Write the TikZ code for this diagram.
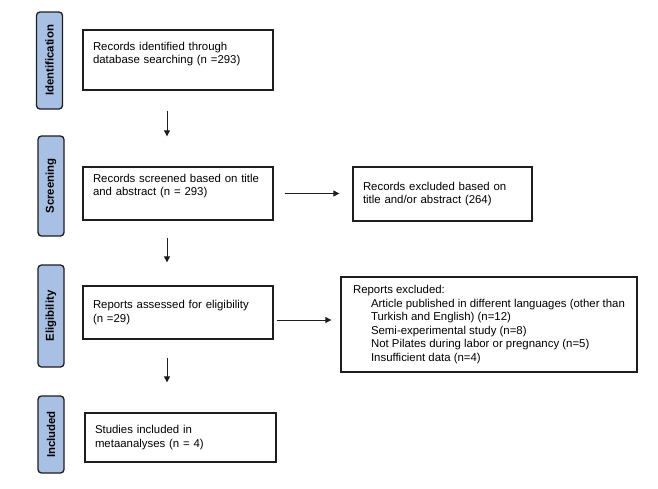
\documentclass[tikz,border=0pt]{standalone}
\usepackage{fontspec}
\setmainfont{Liberation Sans}
\usetikzlibrary{arrows.meta}
\definecolor{stageblue}{RGB}{167,192,228}
\definecolor{linegray}{RGB}{30,30,30}

\begin{document}
\begin{tikzpicture}[x=1pt,y=-1pt,
    stage/.style={draw=linegray, line width=1.3pt, fill=stageblue, rounded corners=3.5pt,
        rotate=90, minimum height=26pt, inner sep=0pt,
        font=\fontsize{11.4}{13.5}\selectfont\bfseries},
    box/.style={draw=linegray, line width=1.3pt, align=left, inner xsep=10pt, inner ysep=0pt,
        font=\fontsize{11.4}{13.5}\selectfont},
    arr/.style={draw=linegray, line width=1pt, -{Triangle[length=6pt,width=6pt]}}
]
\useasboundingbox (0,0) rectangle (658,488);
\fill[white] (0,0) rectangle (658,488);

% stages
\node[stage, minimum width=97pt] (sIdent) at (49.5,60.5) {Identification};
\node[stage, minimum width=100pt] (sScreen) at (51,186) {Screening};
\node[stage, minimum width=102pt] (sElig) at (51,316) {Eligibility};
\node[stage, minimum width=77pt] (sIncl) at (51,434.5) {Included};

% main boxes
\node[box, text width=170pt, minimum height=60pt] (ident) at (178,60)
    {Records identified through\\database searching (n =293)\rule[-14pt]{0pt}{14pt}};
\node[box, text width=170pt, minimum height=53pt] (screen) at (178,193.5)
    {Records screened based on title\\and abstract (n = 293)\rule[-17pt]{0pt}{17pt}};
\node[box, text width=170pt, minimum height=53pt] (elig) at (178,312.5)
    {Reports assessed for eligibility\\(n =29)};
\node[box, text width=171pt, minimum height=49pt] (incl) at (180.5,437.5)
    {Studies included in\\metaanalyses (n = 4)};

% excluded
\node[box, text width=159pt, minimum height=54pt] (excl1) at (442.5,194)
    {Records excluded based on\\title and/or abstract (264)};
\node[box, minimum width=296pt, minimum height=95pt, inner xsep=11pt] (excl2) at (489,324.5)
    {Reports excluded:\\
     \hspace*{18pt}Article published in different languages (other than\\
     \hspace*{18pt}Turkish and English) (n=12)\\
     \hspace*{18pt}Semi-experimental study (n=8)\\
     \hspace*{18pt}Not Pilates during labor or pregnancy (n=5)\\
     \hspace*{18pt}Insufficient data (n=4)};

% arrows
\draw[arr, shorten <=20pt, shorten >=30pt] ([xshift=-11pt]ident.south) -- ([xshift=-11pt]ident.south |- screen.north);
\draw[arr, shorten <=17pt, shorten >=23pt] ([xshift=-11pt]screen.south) -- ([xshift=-11pt]screen.south |- elig.north);
\draw[arr, shorten <=18pt, shorten >=30pt] ([xshift=-11pt]elig.south) -- ([xshift=-11pt]elig.south |- incl.north);
\draw[arr, shorten <=11pt, shorten >=13pt] (screen.east) -- (screen.east -| excl1.west);
\draw[arr, shorten <=3pt, shorten >=9pt] ([yshift=-7.5pt]elig.east) -- ([yshift=-7.5pt]elig.east -| excl2.west);
\end{tikzpicture}
\end{document}
